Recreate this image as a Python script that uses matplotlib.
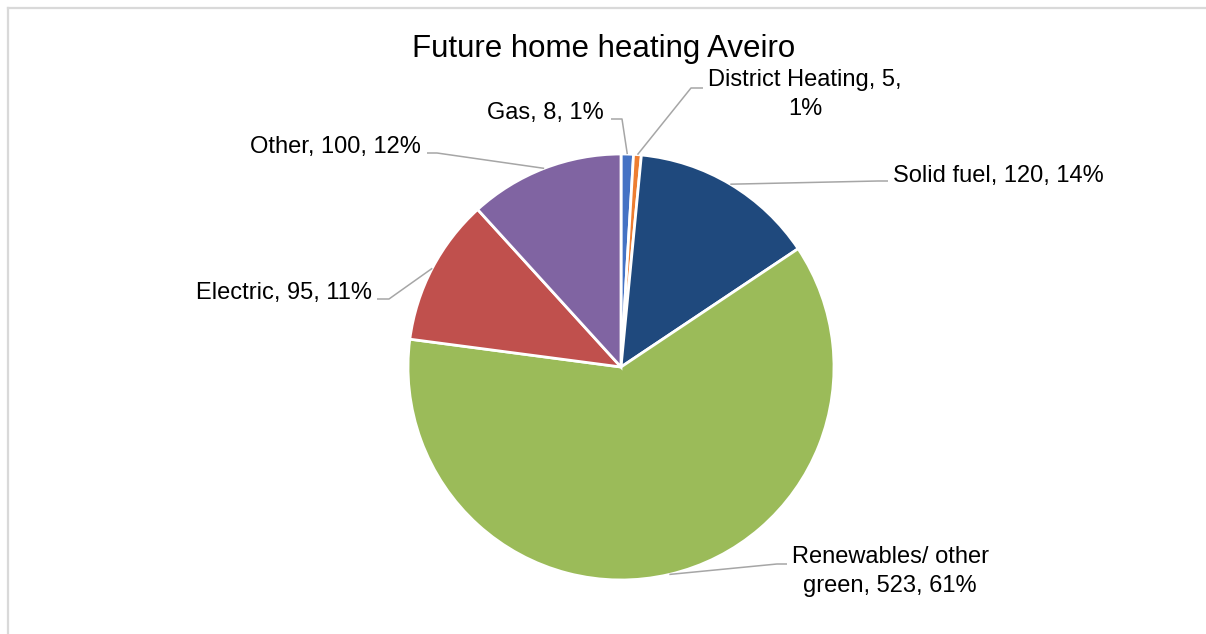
import textwrap
import numpy as np
import matplotlib
matplotlib.use("Agg")
import matplotlib.pyplot as plt

# ---- data ----
categories = ["Gas", "District Heating", "Solid fuel", "Renewables/ other green", "Electric", "Other"]
values = [8, 5, 120, 523, 95, 100]
colors = ["#4472C4", "#ED7D31", "#1F497D", "#9BBB59", "#C0504D", "#8064A2"]
title = "Future home heating Aveiro"

# ---- layout (pixel coordinates, y measured from top) ----
W, H = 1206, 634
center_px = (621, 367)
radius_px = 213
# label anchor (x, baseline y of last line), horizontal alignment, leader elbow points
label_layout = [
    ((604, 119), "right", [(622, 119), (611, 119)]),
    ((805, 115), "center", [(691, 88), (703, 88)]),
    ((893, 182), "left", [(878, 181), (888, 181)]),
    ((890, 592), "center", [(777, 564), (787, 564)]),
    ((372, 299), "right", [(389, 299), (377, 299)]),
    ((421, 153), "right", [(437, 153), (427, 153)]),
]

plt.rcParams["font.family"] = ["Liberation Sans", "DejaVu Sans"]

fig = plt.figure(figsize=(W / 100, H / 100), dpi=100)
ax = fig.add_axes([0, 0, 1, 1])


def py(y):
    return H - y


total = sum(values)
wedges, _ = ax.pie(values, colors=colors, startangle=90, counterclock=False,
                   center=(center_px[0], py(center_px[1])), radius=radius_px,
                   wedgeprops=dict(edgecolor="white", linewidth=2.0))
ax.set_xlim(0, W)
ax.set_ylim(0, H)
ax.set_aspect("equal")
ax.axis("off")

for i, (cat, val) in enumerate(zip(categories, values)):
    pct = round(val / total * 100)
    label = textwrap.fill(f"{cat}, {val}, {pct}%", width=20)
    (tx, ty), ha, elbows = label_layout[i]
    ax.text(tx, py(ty), label, ha=ha, va="baseline", multialignment="center",
            fontsize=17, color="black", linespacing=1.4)
    w = wedges[i]
    mid = np.deg2rad((w.theta1 + w.theta2) / 2)
    cx, cy = w.center
    px0 = cx + w.r * np.cos(mid)
    py0 = cy + w.r * np.sin(mid)
    xs = [px0] + [e[0] for e in elbows]
    ys = [py0] + [py(e[1]) for e in elbows]
    ax.plot(xs, ys, color="#A6A6A6", linewidth=1.1, solid_capstyle="butt")

ax.text(604, py(57), title, ha="center", va="baseline", fontsize=22.5, color="black")

# chart frame (top and left edges visible)
ax.plot([7.5, 7.5], [py(7.5), py(H + 5)], color="#D9D9D9", linewidth=1.6, clip_on=False)
ax.plot([7.5, W + 5], [py(7.5), py(7.5)], color="#D9D9D9", linewidth=1.6, clip_on=False)

fig.savefig("out.png", dpi=100, facecolor="white")
